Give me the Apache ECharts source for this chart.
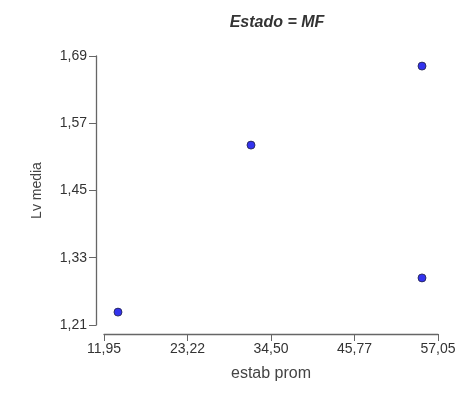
<!DOCTYPE html>
<html>
<head>
<meta charset="utf-8">
<script src="https://cdn.jsdelivr.net/npm/echarts@6/dist/echarts.min.js"></script>
<style>html,body{margin:0;padding:0;background:#fff}#c{width:456px;height:401px}</style>
</head>
<body>
<div id="c"></div>
<script>
var titleText = 'Estado = MF';
var xName = 'estab prom';
var yName = 'Lv media';
var xTicks = [11.95, 23.22, 34.50, 45.77, 57.05];
var yTicks = [1.21, 1.33, 1.45, 1.57, 1.69];
var xValues = [13.84, 31.80, 54.89, 54.89];
var yValues = [1.233, 1.531, 1.672, 1.294];

var points = xValues.map(function (x, i) { return [x, yValues[i]]; });
function fmt(v) { return v.toFixed(2).replace('.', ','); }
var font = 'Liberation Sans, Arial, sans-serif';

var chart = echarts.init(document.getElementById('c'), null, {renderer: 'canvas'});
chart.setOption({
  animation: false,
  backgroundColor: '#fff',
  title: {
    text: titleText, left: 272, top: 10, textAlign: 'center',
    textStyle: {fontFamily: font, fontSize: 16, fontWeight: 'bold', fontStyle: 'italic', color: '#333'}
  },
  grid: {left: 104, right: 18, top: 56, bottom: 76, containLabel: false, outerBoundsMode: 'none'},
  xAxis: {
    type: 'value', min: xTicks[0], max: xTicks[xTicks.length - 1], offset: 9,
    name: xName, nameLocation: 'middle', nameGap: 32,
    nameTextStyle: {fontFamily: font, fontSize: 16, color: '#444'},
    splitLine: {show: false},
    axisLine: {show: true, lineStyle: {color: '#666', width: 1.3}},
    axisTick: {show: true, length: 7, customValues: xTicks, lineStyle: {color: '#666'}},
    axisLabel: {customValues: xTicks, formatter: fmt, fontFamily: font, fontSize: 14, color: '#333', margin: 8}
  },
  yAxis: {
    type: 'value', min: yTicks[0], max: yTicks[yTicks.length - 1], offset: 8,
    name: yName, nameLocation: 'middle', nameGap: 52, nameRotate: 90,
    nameTextStyle: {fontFamily: font, fontSize: 14, color: '#444'},
    splitLine: {show: false},
    axisLine: {show: true, lineStyle: {color: '#666', width: 1.3}},
    axisTick: {show: true, length: 7, customValues: yTicks, lineStyle: {color: '#666'}},
    axisLabel: {customValues: yTicks, formatter: fmt, fontFamily: font, fontSize: 14, color: '#333', margin: 9}
  },
  series: [{
    type: 'scatter', data: points, symbolSize: 8,
    itemStyle: {color: '#3333ee', borderColor: '#222244', borderWidth: 0.8, opacity: 1}
  }]
});
</script>
</body>
</html>
